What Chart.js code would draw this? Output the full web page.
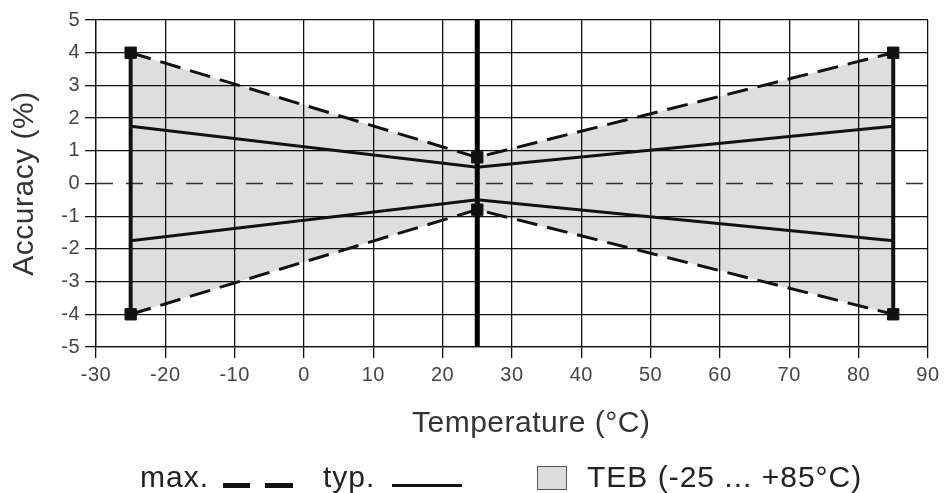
<!DOCTYPE html>
<html>
<head>
<meta charset="utf-8">
<script src="https://cdn.jsdelivr.net/npm/chart.js@4"></script>
<style>
  body { margin: 0; background: #fff; }
  #wrap { position: relative; width: 944px; height: 493px; font-family: "Liberation Sans", Arial, sans-serif; color: #222; }
  canvas { position: absolute; left: 0; top: 0; }
  .lg { position: absolute; font-size: 30px; line-height: 30px; letter-spacing: 1px; white-space: nowrap; }
  .xt { position: absolute; font-size: 30px; line-height: 30px; letter-spacing: 0.5px; white-space: nowrap; color: #333; }
  .dash { position: absolute; height: 5px; background: #111; }
  .solid { position: absolute; height: 3px; background: #111; }
  .box { position: absolute; width: 28px; height: 22px; border: 1px solid #555; background: #ddd; }
</style>
</head>
<body>
<div id="wrap">
  <canvas id="chart" width="944" height="493"></canvas>
  <span class="xt" style="left:412px; top:407px;">Temperature (°C)</span>
  <span class="lg" style="left:140px; top:462px;">max.</span>
  <span class="dash" style="left:223px; top:483px; width:27px;"></span>
  <span class="dash" style="left:265px; top:483px; width:28px;"></span>
  <span class="lg" style="left:323px; top:462px;">typ.</span>
  <span class="solid" style="left:392px; top:484px; width:70px;"></span>
  <span class="box" style="left:537px; top:466px;"></span>
  <span class="lg" style="left:587px; top:462px;">TEB (-25 ... +85°C)</span>
</div>
<script>
// Werte
const temps = [-25, 25, 85];
const maxUpper = [4, 0.8, 4];
const maxLower = [-4, -0.8, -4];
const typUpper = [1.75, 0.5, 1.75];
const typLower = [-1.75, -0.5, -1.75];

const tebLimits = [-25, 85];      // Grenzen des TEB-Bereichs
const tebRange = [-4, 4];
const refTemp = 25;
const refRange = [-5, 5];
const zeroLine = { x: [-30, 90], y: [0, 0] };

const xTicks = [-30, -20, -10, 0, 10, 20, 30, 40, 50, 60, 70, 80, 90];
const yTicks = [-5, -4, -3, -2, -1, 0, 1, 2, 3, 4, 5];

const pts = (xs, ys) => xs.map((x, i) => ({ x: x, y: ys[i] }));

const maxStyle = {
  borderColor: '#111', borderWidth: 3, borderDash: [21, 10],
  pointStyle: 'rect', pointRadius: 8, pointBackgroundColor: '#111',
  pointBorderColor: '#111', pointBorderWidth: 1
};
const typStyle = { borderColor: '#111', borderWidth: 3, pointRadius: 0, fill: false };

// etwas breitere Schrift wie im Original
const spacing = {
  id: 'spacing',
  beforeDraw: chart => { chart.ctx.letterSpacing = '0.5px'; }
};

new Chart(document.getElementById('chart'), {
  type: 'line',
  data: {
    datasets: [
      { data: pts(temps, maxUpper), ...maxStyle, fill: '+1', backgroundColor: 'rgba(0,0,0,0.13)' },
      { data: pts(temps, maxLower), ...maxStyle, fill: false },
      { data: pts(temps, typUpper), ...typStyle },
      { data: pts(temps, typLower), ...typStyle },
      { data: pts([tebLimits[0], tebLimits[0]], tebRange), borderColor: '#111', borderWidth: 4, pointRadius: 0, fill: false },
      { data: pts([tebLimits[1], tebLimits[1]], tebRange), borderColor: '#111', borderWidth: 4, pointRadius: 0, fill: false },
      { data: pts([refTemp, refTemp], refRange), borderColor: '#000', borderWidth: 5, pointRadius: 0, fill: false },
      { data: pts(zeroLine.x, zeroLine.y), borderColor: '#333', borderWidth: 1.3, borderDash: [17, 13], pointRadius: 0, fill: false }
    ]
  },
  plugins: [spacing],
  options: {
    responsive: false,
    animation: false,
    events: [],
    layout: { padding: { top: 20, right: 14, left: 0, bottom: 0 } },
    plugins: {
      legend: { display: false },
      tooltip: { enabled: false },
      filler: { drawTime: 'beforeDatasetsDraw' }   // Fläche unter allen Linien
    },
    scales: {
      x: {
        type: 'linear', min: -30, max: 90,
        afterBuildTicks: s => { s.ticks = xTicks.map(v => ({ value: v })); },
        afterFit: s => { s.height = 146; },
        grid: { color: '#111', lineWidth: 1.3, tickLength: 11 },
        border: { color: '#111', width: 1.3 },
        ticks: { color: '#444', font: { family: 'Liberation Sans', size: 20 }, padding: 5, maxRotation: 0 }
      },
      y: {
        min: -5, max: 5,
        afterBuildTicks: s => { s.ticks = yTicks.map(v => ({ value: v })); },
        afterFit: s => { s.width = 96; },
        // Null-Linie nur gestrichelt, Tick-Strich bleibt
        grid: { color: c => (c.tick && c.tick.value === 0 ? 'rgba(0,0,0,0)' : '#111'),
                tickColor: '#111', lineWidth: 1.3, tickLength: 11 },
        border: { color: '#111', width: 1.3 },
        ticks: { color: '#444', font: { family: 'Liberation Sans', size: 20 }, padding: 5 },
        title: { display: true, text: 'Accuracy (%)', color: '#333',
                 font: { family: 'Liberation Sans', size: 30 }, padding: { top: 7, bottom: 0 } }
      }
    }
  }
});
</script>
</body>
</html>
